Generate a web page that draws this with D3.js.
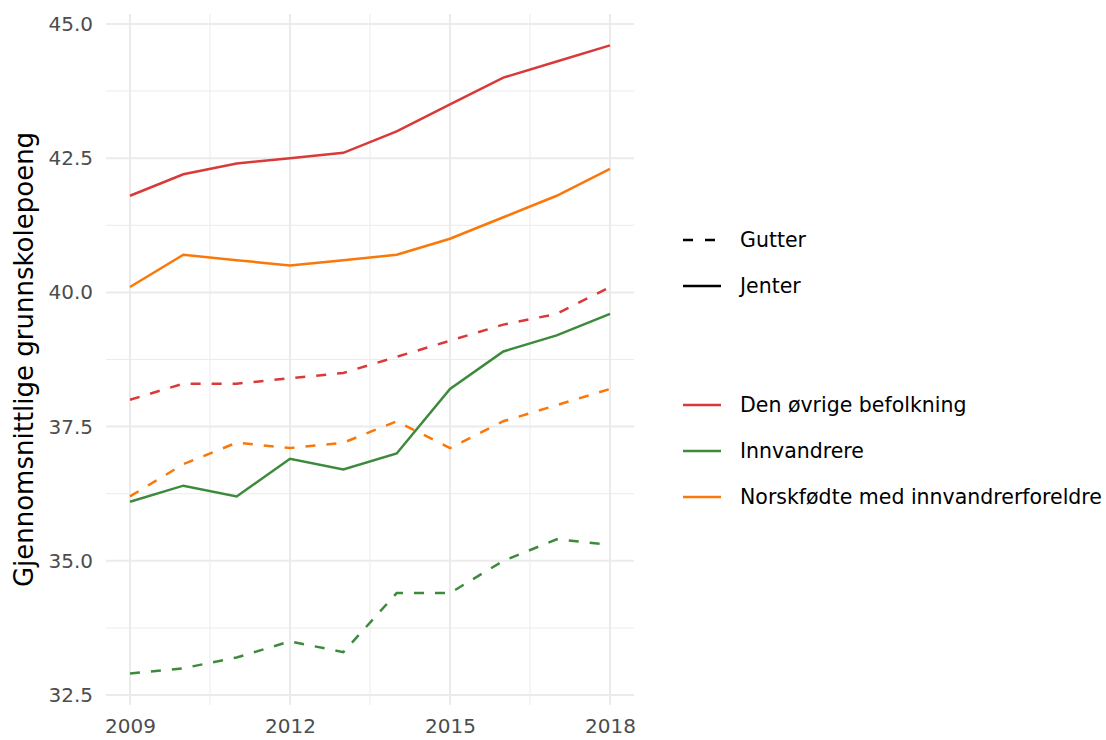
<!DOCTYPE html>
<html>
<head>
<meta charset="utf-8">
<script src="https://cdn.jsdelivr.net/npm/d3@7"></script>
<style>
  body { margin: 0; background: #fff; }
  text { font-family: Verdana, "DejaVu Sans", sans-serif; }
</style>
</head>
<body>
<svg id="chart" width="1106" height="740"></svg>
<script>
// data
const years = [2009, 2010, 2011, 2012, 2013, 2014, 2015, 2016, 2017, 2018]
const groups = ["Den øvrige befolkning", "Innvandrere", "Norskfødte med innvandrerforeldre"]
const genders = ["Gutter", "Jenter"]
const groupColors = ["#d93a39", "#3e8a3d", "#fa770a"]

const ovrigeJenter = [41.8, 42.2, 42.4, 42.5, 42.6, 43.0, 43.5, 44.0, 44.3, 44.6]
const ovrigeGutter = [38.0, 38.3, 38.3, 38.4, 38.5, 38.8, 39.1, 39.4, 39.6, 40.1]
const innvJenter = [36.1, 36.4, 36.2, 36.9, 36.7, 37.0, 38.2, 38.9, 39.2, 39.6]
const innvGutter = [32.9, 33.0, 33.2, 33.5, 33.3, 34.4, 34.4, 35.0, 35.4, 35.3]
const norskJenter = [40.1, 40.7, 40.6, 40.5, 40.6, 40.7, 41.0, 41.4, 41.8, 42.3]
const norskGutter = [36.2, 36.8, 37.2, 37.1, 37.2, 37.6, 37.1, 37.6, 37.9, 38.2]

const xTicks = [2009, 2012, 2015, 2018]
const xMinor = [2010.5, 2013.5, 2016.5]
const yTicks = [32.5, 35.0, 37.5, 40.0, 42.5, 45.0]
const yMinor = [33.75, 36.25, 38.75, 41.25, 43.75]

const series = [
    { group: 0, gender: "Jenter", values: ovrigeJenter },
    { group: 0, gender: "Gutter", values: ovrigeGutter },
    { group: 1, gender: "Jenter", values: innvJenter },
    { group: 1, gender: "Gutter", values: innvGutter },
    { group: 2, gender: "Jenter", values: norskJenter },
    { group: 2, gender: "Gutter", values: norskGutter }
]

const svg = d3.select("#chart")
const pLeft = 106, pRight = 634, pTop = 14, pBottom = 705
const dash = "10,11"

// ggplot-style 5% expansion
const allVals = series.flatMap(s => s.values)
const yMin = d3.min(allVals), yMax = d3.max(allVals)
const yPad = (yMax - yMin) * 0.05
const xPad = (d3.max(years) - d3.min(years)) * 0.05

const x = d3.scaleLinear()
    .domain([d3.min(years) - xPad, d3.max(years) + xPad])
    .range([pLeft, pRight])
const y = d3.scaleLinear()
    .domain([yMin - yPad, yMax + yPad])
    .range([pBottom, pTop])

const grid = svg.append("g")
grid.selectAll(".xminor").data(xMinor).join("line")
    .attr("x1", d => x(d)).attr("x2", d => x(d))
    .attr("y1", pTop).attr("y2", pBottom)
    .attr("stroke", "#ebebeb").attr("stroke-width", 1)
grid.selectAll(".yminor").data(yMinor).join("line")
    .attr("x1", pLeft).attr("x2", pRight)
    .attr("y1", d => y(d)).attr("y2", d => y(d))
    .attr("stroke", "#ebebeb").attr("stroke-width", 1)
grid.selectAll(".xmajor").data(xTicks).join("line")
    .attr("x1", d => x(d)).attr("x2", d => x(d))
    .attr("y1", pTop).attr("y2", pBottom)
    .attr("stroke", "#ebebeb").attr("stroke-width", 2)
grid.selectAll(".ymajor").data(yTicks).join("line")
    .attr("x1", pLeft).attr("x2", pRight)
    .attr("y1", d => y(d)).attr("y2", d => y(d))
    .attr("stroke", "#ebebeb").attr("stroke-width", 2)

// axes
const yAxis = svg.append("g")
    .attr("transform", `translate(${pLeft},0)`)
    .call(d3.axisLeft(y).tickValues(yTicks).tickFormat(d3.format(".1f")).tickSize(0).tickPadding(13))
yAxis.select(".domain").remove()
yAxis.selectAll("text").attr("font-size", 20).attr("fill", "#4d4d4d")
    .attr("font-family", "Verdana, 'DejaVu Sans', sans-serif")

const xAxis = svg.append("g")
    .attr("transform", `translate(0,${pBottom})`)
    .call(d3.axisBottom(x).tickValues(xTicks).tickFormat(d3.format("d")).tickSize(0).tickPadding(14))
xAxis.select(".domain").remove()
xAxis.selectAll("text").attr("font-size", 20).attr("fill", "#4d4d4d")
    .attr("font-family", "Verdana, 'DejaVu Sans', sans-serif")

svg.append("text")
    .attr("transform", `translate(33,${(pTop + pBottom) / 2}) rotate(-90)`)
    .attr("text-anchor", "middle")
    .attr("font-size", 26)
    .attr("fill", "#000")
    .text("Gjennomsnittlige grunnskolepoeng")

// lines
const line = d3.line()
    .x((d, i) => x(years[i]))
    .y(d => y(d))

svg.append("g").selectAll("path").data(series).join("path")
    .attr("d", d => line(d.values))
    .attr("fill", "none")
    .attr("stroke", d => groupColors[d.group])
    .attr("stroke-width", 2.5)
    .attr("stroke-dasharray", d => d.gender == "Gutter" ? dash : null)

// legend: linetype
const lg1 = svg.append("g")
genders.forEach(function (g, i) {
    let yy = 240 + i * 46
    lg1.append("line")
        .attr("x1", 683).attr("x2", 721).attr("y1", yy).attr("y2", yy)
        .attr("stroke", "#000").attr("stroke-width", 2.5)
        .attr("stroke-dasharray", g == "Gutter" ? "10,12" : null)
    lg1.append("text")
        .attr("x", 740).attr("y", yy).attr("dy", "0.36em")
        .attr("font-size", 20.5).attr("fill", "#000")
        .text(g)
})

// legend: colour
const lg2 = svg.append("g")
groups.forEach(function (g, i) {
    let yy = 405 + i * 46
    lg2.append("line")
        .attr("x1", 683).attr("x2", 721).attr("y1", yy).attr("y2", yy)
        .attr("stroke", groupColors[i]).attr("stroke-width", 2.5)
    lg2.append("text")
        .attr("x", 740).attr("y", yy).attr("dy", "0.36em")
        .attr("font-size", 20.5).attr("fill", "#000")
        .text(g)
})
</script>
</body>
</html>
